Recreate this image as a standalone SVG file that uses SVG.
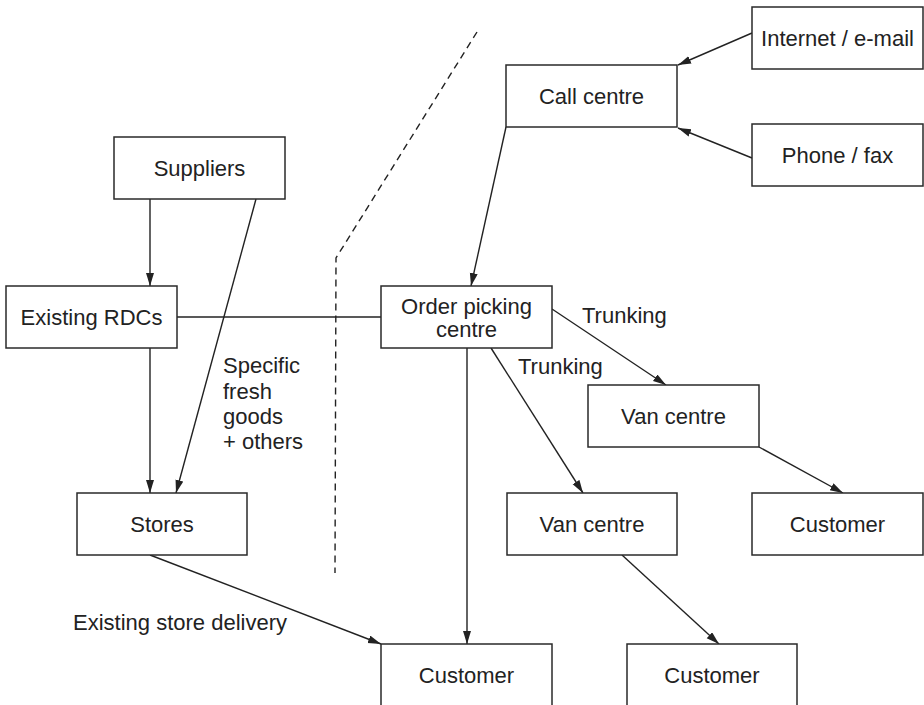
<svg xmlns="http://www.w3.org/2000/svg" width="924" height="705" viewBox="0 0 924 705">
  <style>
    .box { fill: #ffffff; stroke: #2a2a2a; stroke-width: 1.5; }
    .lbl { font-family: "Liberation Sans", Arial, Helvetica, sans-serif; font-size: 22px; fill: #222222; }
    .mid { text-anchor: middle; }
    .edge { stroke: #222222; stroke-width: 1.4; fill: none; }
    .arrow { marker-end: url(#head); }
    .divider { stroke: #222222; stroke-width: 1.4; fill: none; stroke-dasharray: 7 5; }
  </style>
  <defs>
    <marker id="head" markerUnits="userSpaceOnUse" markerWidth="14" markerHeight="10" refX="13" refY="4" orient="auto">
      <path d="M0,0 L13,4 L0,8 Z" fill="#222222"/>
    </marker>
  </defs>
  <rect width="924" height="705" fill="#ffffff"/>

  <!-- divider between existing network and new channel -->
  <polyline class="divider" points="477,32 336,258 335,573"/>

  <g id="connectors">
    <line class="edge arrow" x1="752" y1="33" x2="678" y2="65"/>
    <line class="edge arrow" x1="752" y1="158" x2="678" y2="128"/>
    <line class="edge arrow" x1="506" y1="127" x2="471" y2="286"/>
    <line class="edge arrow" x1="150" y1="199" x2="150" y2="286"/>
    <line class="edge arrow" x1="256" y1="199" x2="176" y2="493"/>
    <line class="edge arrow" x1="150" y1="348" x2="150" y2="493"/>
    <line class="edge" x1="177" y1="317" x2="381" y2="317"/>
    <line class="edge arrow" x1="150" y1="555" x2="381" y2="644"/>
    <line class="edge arrow" x1="467" y1="348" x2="467" y2="644"/>
    <line class="edge arrow" x1="491" y1="348" x2="583" y2="493"/>
    <line class="edge arrow" x1="552" y1="309" x2="666" y2="385"/>
    <line class="edge arrow" x1="759" y1="447" x2="843" y2="493"/>
    <line class="edge arrow" x1="622" y1="555" x2="719" y2="644"/>
    <text class="lbl" x="582" y="323">Trunking</text>
    <text class="lbl" x="518" y="374">Trunking</text>
    <text class="lbl" x="223" y="373">Specific</text>
    <text class="lbl" x="223" y="399">fresh</text>
    <text class="lbl" x="223" y="424">goods</text>
    <text class="lbl" x="223" y="449">+ others</text>
    <text class="lbl" x="73" y="630">Existing store delivery</text>
  </g>

  <g id="internet">
    <rect class="box" x="752" y="7" width="171" height="62"/>
    <text class="lbl mid" x="837.5" y="46">Internet / e-mail</text>
  </g>
  <g id="call-centre">
    <rect class="box" x="506" y="65" width="171" height="62"/>
    <text class="lbl mid" x="591.5" y="104">Call centre</text>
  </g>
  <g id="phone">
    <rect class="box" x="752" y="124" width="171" height="62"/>
    <text class="lbl mid" x="837.5" y="163">Phone / fax</text>
  </g>
  <g id="suppliers">
    <rect class="box" x="114" y="137" width="171" height="62"/>
    <text class="lbl mid" x="199.5" y="176">Suppliers</text>
  </g>
  <g id="existing-rdcs">
    <rect class="box" x="6" y="286" width="171" height="62"/>
    <text class="lbl mid" x="91.5" y="325">Existing RDCs</text>
  </g>
  <g id="order-picking">
    <rect class="box" x="381" y="286" width="171" height="62"/>
    <text class="lbl mid" x="466.5" y="314">Order picking</text>
    <text class="lbl mid" x="466.5" y="337">centre</text>
  </g>
  <g id="van-centre-1">
    <rect class="box" x="588" y="385" width="171" height="62"/>
    <text class="lbl mid" x="673.5" y="424">Van centre</text>
  </g>
  <g id="stores">
    <rect class="box" x="77" y="493" width="170" height="62"/>
    <text class="lbl mid" x="162" y="532">Stores</text>
  </g>
  <g id="van-centre-2">
    <rect class="box" x="507" y="493" width="170" height="62"/>
    <text class="lbl mid" x="592" y="532">Van centre</text>
  </g>
  <g id="customer-1">
    <rect class="box" x="752" y="493" width="171" height="62"/>
    <text class="lbl mid" x="837.5" y="532">Customer</text>
  </g>
  <g id="customer-2">
    <rect class="box" x="381" y="644" width="171" height="64"/>
    <text class="lbl mid" x="466.5" y="683">Customer</text>
  </g>
  <g id="customer-3">
    <rect class="box" x="627" y="644" width="170" height="64"/>
    <text class="lbl mid" x="712" y="683">Customer</text>
  </g>
</svg>
